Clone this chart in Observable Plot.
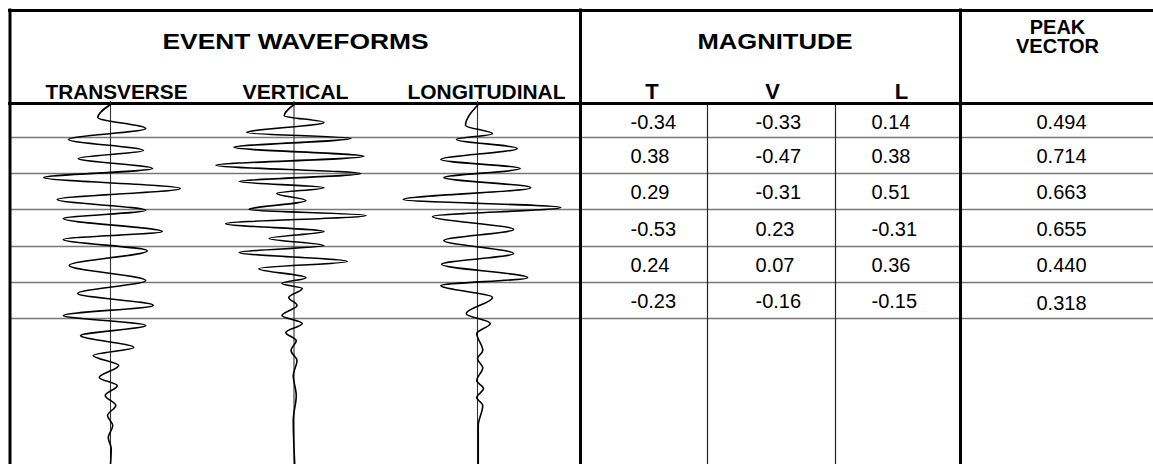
<!DOCTYPE html>
<html>
<head>
<meta charset="utf-8">
<script src="https://cdn.jsdelivr.net/npm/d3@7"></script>
<script src="https://cdn.jsdelivr.net/npm/@observablehq/plot@0.6"></script>
<style>
  html, body { margin: 0; padding: 0; background: #fff; }
  #chart { position: relative; width: 1153px; height: 464px; overflow: hidden; background: #fff; }
  #chart svg { position: absolute; left: 0; top: 0; }
</style>
</head>
<body>
<div id="chart"></div>
<script>
// ---------------- DATA ----------------
const headerTitles = ["EVENT WAVEFORMS", "MAGNITUDE"];
const peakTitle = ["PEAK", "VECTOR"];
const components = ["TRANSVERSE", "VERTICAL", "LONGITUDINAL"];
const magColumns = ["T", "V", "L"];

const magT = [-0.34, 0.38, 0.29, -0.53, 0.24, -0.23];
const magV = [-0.33, -0.47, -0.31, 0.23, 0.07, -0.16];
const magL = [0.14, 0.38, 0.51, -0.31, 0.36, -0.15];
const peakVector = [0.494, 0.714, 0.663, 0.655, 0.440, 0.318];

// waveform samples: time (ms, downward) and normalised amplitude (peaks)
const transverseTime = [0,36,67,97,128,150,178,203,233,264,294,317,353,375,406,447,489,525,558,586,614,642,675,697,725,758,781,808,836,864,892,925,956,1000];
const transverseAmp  = [0,-0.17,0.47,-0.56,0.44,-0.43,0.56,-0.89,0.93,-0.71,0.47,-0.63,0.69,-0.63,0.49,-0.55,0.47,-0.44,0.57,-0.63,0.47,-0.40,0.31,-0.23,0.11,-0.15,0.09,-0.07,0.07,-0.04,0.03,-0.03,0.01,0];
const verticalTime = [0,31,50,78,94,119,144,169,192,214,231,247,267,292,308,331,353,372,392,411,436,456,481,497,511,536,558,586,608,633,656,683,711,753,808,878,1000];
const verticalAmp  = [0,-0.13,0.40,-0.63,0.76,-0.80,0.93,-1.04,0.89,-0.73,0.40,-0.23,0.16,-0.60,0.96,-0.91,0.40,-0.33,0.40,-0.73,0.71,-0.47,0.16,-0.16,0.11,-0.07,0.04,-0.16,0.11,-0.11,0.03,-0.04,0.04,-0.01,0.03,-0.01,0.01];
const longitudinalTime = [0,58,81,97,122,153,178,203,231,264,286,311,347,378,414,444,481,503,536,581,608,636,683,706,731,767,789,814,836,892,1000];
const longitudinalAmp  = [0.01,-0.16,0.20,-0.28,0.53,-0.49,0.57,-0.45,0.71,-0.99,1.11,-0.60,0.48,-0.45,0.48,-0.48,0.67,-0.49,0.20,-0.15,0.17,-0.01,0.07,0,0.07,-0.01,0.08,-0.01,0.07,0.01,0.01];

// ---------------- LAYOUT ----------------
const W = 1153, H = 464;
const fontFamily = "'Liberation Sans', Arial, Helvetica, sans-serif";
const rowEdges = [104, 137, 173, 209, 246, 282, 318];
const rowMid = i => (rowEdges[i] + rowEdges[i + 1]) / 2 + 1.5;
const base = (baseline, fs) => baseline - 0.32 * fs;

const valueRows = magT.map((t, i) => ({row: i, T: t, V: magV[i], L: magL[i], P: peakVector[i]}));
const fmt2 = v => v.toFixed(2);
const fmt3 = v => v.toFixed(3);

const compX = [116, 295, 486];
const magX = [651.5, 772, 901];

const tableSvg = Plot.plot({
  width: W, height: H, margin: 0,
  x: {type: "linear", domain: [0, W], range: [0, W], axis: null},
  y: {type: "linear", domain: [0, H], range: [0, H], axis: null},
  style: {fontFamily, background: "white", overflow: "visible"},
  marks: [
    Plot.ruleY(rowEdges.slice(1), {x1: 10, x2: W, stroke: "#777", strokeWidth: 1.4}),
    Plot.ruleX([707, 835], {y1: 104, y2: H, stroke: "#222", strokeWidth: 1.2}),
    Plot.ruleY([10], {x1: 8, x2: W, stroke: "#000", strokeWidth: 3}),
    Plot.ruleY([103], {x1: 8, x2: W, stroke: "#000", strokeWidth: 3}),
    Plot.ruleX([9.5], {y1: 8.5, y2: H, stroke: "#000", strokeWidth: 3}),
    Plot.ruleX([580, 960], {y1: 8.5, y2: H, stroke: "#000", strokeWidth: 3}),
    // headers
    Plot.text(headerTitles, {x: (d, i) => [295, 774.5][i], y: base(48, 22), text: d => d, fontSize: 22, fontWeight: "bold", fill: "#000"}),
    Plot.text([peakTitle.join("\n")], {x: 1057, y: 37, text: d => d, lineHeight: 0.92, fontSize: 20, fontWeight: "bold", fill: "#000"}),
    Plot.text(components, {x: (d, i) => compX[i], y: base(98, 20), text: d => d, fontSize: 20, fontWeight: "bold", fill: "#000"}),
    Plot.text(magColumns, {x: (d, i) => magX[i], y: base(98, 22), text: d => d, fontSize: 22, fontWeight: "bold", fill: "#000"}),
    // values
    Plot.text(valueRows, {x: 630, y: d => rowMid(d.row), text: d => fmt2(d.T), textAnchor: "start", fontSize: 20, fill: "#000"}),
    Plot.text(valueRows, {x: 755, y: d => rowMid(d.row), text: d => fmt2(d.V), textAnchor: "start", fontSize: 20, fill: "#000"}),
    Plot.text(valueRows, {x: 871, y: d => rowMid(d.row), text: d => fmt2(d.L), textAnchor: "start", fontSize: 20, fill: "#000"}),
    Plot.text(valueRows, {x: 1036, y: d => rowMid(d.row) + (d.row === 5 ? 1.5 : 0), text: d => fmt3(d.P), textAnchor: "start", fontSize: 20, fill: "#000"})
  ]
});

// stretch headers to the widths seen in the reference
const stretch = {"EVENT WAVEFORMS": 266, "MAGNITUDE": 155, "TRANSVERSE": 142, "VERTICAL": 106, "LONGITUDINAL": 158};
d3.select(tableSvg).selectAll("text").each(function () {
  const t = this.textContent;
  if (stretch[t]) {
    this.setAttribute("textLength", stretch[t]);
    this.setAttribute("lengthAdjust", "spacingAndGlyphs");
  }
});

// ---------------- WAVEFORMS ----------------
const waveTimes = [transverseTime, verticalTime, longitudinalTime];
const waveAmps = [transverseAmp, verticalAmp, longitudinalAmp];
const waveRows = [];
components.forEach((c, k) => {
  waveTimes[k].forEach((t, i) => waveRows.push({component: c, t, a: waveAmps[k][i]}));
});
const bw = 183.5;
const fx0 = 110 - bw / 2;
const pxPerUnit = 75;

const waveSvg = Plot.plot({
  width: W, height: H, margin: 0,
  style: {background: "transparent", overflow: "visible"},
  facet: {data: waveRows, x: "component"},
  fx: {domain: components, range: [fx0, fx0 + 3 * bw], padding: 0, round: false, axis: null},
  x: {domain: [-bw / 2 / pxPerUnit, bw / 2 / pxPerUnit], axis: null},
  y: {domain: [0, 1000], range: [104, 464], axis: null},
  marks: [
    Plot.ruleX([0], {y1: -8, y2: 1000, stroke: "#333", strokeWidth: 1.1}),
    Plot.line(waveRows, {x: "a", y: "t", curve: "monotone-y", stroke: "#000", strokeWidth: 1.6})
  ]
});

const chart = document.getElementById("chart");
chart.append(tableSvg, waveSvg);
</script>
</body>
</html>
